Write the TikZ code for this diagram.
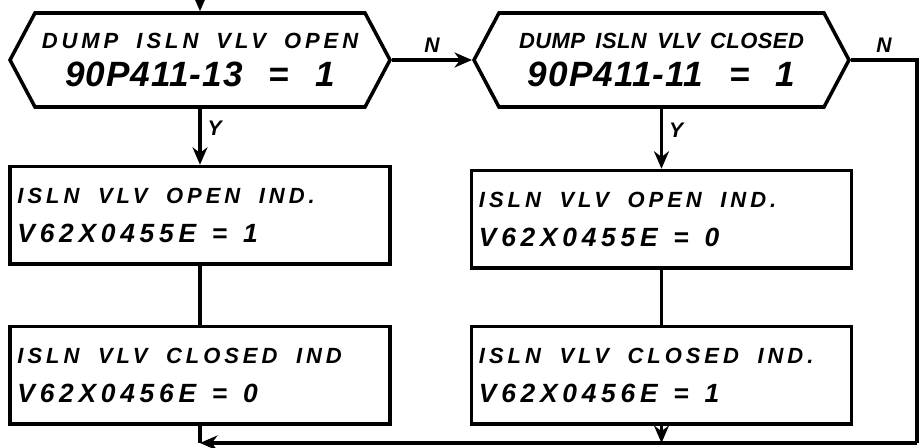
\documentclass[tikz,border=0pt]{standalone}
\usepackage{fontspec}
\setmainfont{Liberation Sans}
\newfontfamily\handfont[LetterSpace=18,WordSpace=1.8]{Liberation Sans}
\newfontfamily\handtight[LetterSpace=2,WordSpace=1.6]{Liberation Sans}
\newfontfamily\handnum[LetterSpace=3,WordSpace=2.4]{Liberation Sans}
\usetikzlibrary{shapes.symbols, arrows.meta, positioning, calc}
\newcommand{\toprow}{\handfont\bfseries\itshape\fontsize{12.5}{15}\selectfont}
\newcommand{\toprowtight}{\handtight\bfseries\itshape\fontsize{12.5}{15}\selectfont}
\newcommand{\bigrow}{\handnum\bfseries\itshape\fontsize{20}{22}\selectfont}
\newcommand{\midrow}{\handfont\bfseries\itshape\fontsize{15}{18}\selectfont}
\newcommand{\wgap}{\hspace{0.85em}}

\begin{document}
\begin{tikzpicture}[
          node distance=1.12cm,
          test/.style={signal, signal to=west and east, signal pointer angle=124,
                       draw=black, line width=2pt,
                       minimum width=7.6cm, minimum height=1.88cm,
                       align=center, inner sep=1pt},
          ind/.style={rectangle, draw=black, line width=2pt,
                      minimum width=7.6cm, minimum height=1.95cm, text width=7.3cm,
                      align=left},
          arr/.style={-{Stealth[length=3.5mm, width=3mm]}, line width=2pt},
          wire/.style={line width=2pt},
          lbl/.style={font=\handfont\bfseries\itshape\large}
        ]
        \useasboundingbox (0,0) rectangle (18.48,8.94);
        % decisions
        \node[test] (hexA) at (4.0,7.74) {\toprow DUMP ISLN VLV OPEN\\[7pt]\bigrow 90P411-13 = 1};
        \node[test, minimum width=7.5cm, right=1.6cm of hexA] (hexB) {\toprowtight DUMP ISLN VLV CLOSED\\[7pt]\bigrow 90P411-11 = 1};
        % indicators
        \node[ind, below=1.12cm of hexA] (indA) {\toprow ISLN\wgap VLV\wgap OPEN\wgap IND.\\[10pt]\midrow V62X0455E\hspace{0.6em}=\hspace{0.6em}1};
        \node[ind, below=1.18cm of indA] (indB) {\toprow ISLN\wgap VLV\wgap CLOSED\wgap IND\\[10pt]\midrow V62X0456E\hspace{0.6em}=\hspace{0.6em}0};
        \node[ind, below=1.2cm of hexB] (indC) {\toprow ISLN\wgap VLV\wgap OPEN\wgap IND.\\[10pt]\midrow V62X0455E\hspace{0.6em}=\hspace{0.6em}0};
        \node[ind, below=1.1cm of indC] (indD) {\toprow ISLN\wgap VLV\wgap CLOSED\wgap IND.\\[10pt]\midrow V62X0456E\hspace{0.6em}=\hspace{0.6em}1};
        % helper points
        \coordinate (entry) at (hexA.north |- 0,8.94);
        \coordinate (rtop) at (hexB.east -| 18.34,0);
        \coordinate (rbot) at (rtop |- 0,0.08);
        \coordinate (mrg) at (indB.south |- rbot);
        % connectors
        \draw[arr] (entry) -- (hexA.north);
        \draw[arr] (hexA.east) -- node[lbl, above] {N} (hexB.west);
        \draw[arr] (hexA.south) -- node[lbl, right, pos=0.35] {Y} (indA.north);
        \draw[arr] (hexB.south) -- node[lbl, right, pos=0.35] {Y} (indC.north);
        \draw[wire] (indA) -- (indB);
        \draw[wire] (indC) -- (indD);
        \draw[wire] (hexB.east) -- node[lbl, above, pos=0.5] {N} (rtop) -- (rbot);
        \draw[arr] (rbot) -- (mrg);
        \draw[wire] (indB.south) -- (mrg);
        \draw[arr] (indD.south) -- (indD.south |- rbot);
      \end{tikzpicture}
\end{document}
